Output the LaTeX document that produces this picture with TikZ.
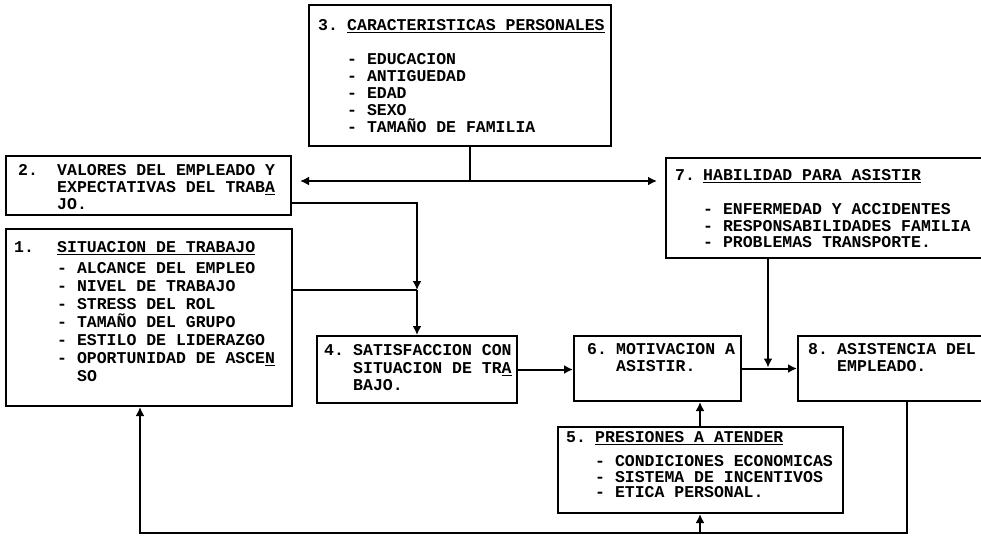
\documentclass[tikz,border=0pt]{standalone}
\usepackage{fontspec}
\setmonofont{Liberation Mono}
\usetikzlibrary{arrows.meta}
\newcommand\twfont{\ttfamily\bfseries\fontsize{16.5}{18}\selectfont}
\newcommand\myul[1]{\setbox0=\hbox{#1}\rlap{\rule[-3pt]{\wd0}{1.5pt}}\box0}
\tikzset{
  box/.style={draw, line width=2pt, anchor=north west, inner sep=0pt},
  txt/.style={anchor=base west, inner sep=0pt, font=\twfont},
  ln/.style={line width=2pt},
  arr/.style={line width=2pt, -{Latex[length=9pt,width=9pt]}},
}
\begin{document}
\begin{tikzpicture}[x=1pt,y=-1pt]
\useasboundingbox (0,0) rectangle (981,546);
\clip (0,0) rectangle (981,546);
\fill[white] (0,0) rectangle (981,546);
% boxes
\node[box, minimum width=302pt, minimum height=141pt] (b3) at (308,4) {};
\node[box, minimum width=285pt, minimum height=59pt] (b2) at (5,155) {};
\node[box, minimum width=286pt, minimum height=177pt] (b1) at (5,228) {};
\node[box, minimum width=330pt, minimum height=100pt] (b7) at (665,157) {};
\node[box, minimum width=200pt, minimum height=67pt] (b4) at (316,335) {};
\node[box, minimum width=167pt, minimum height=65pt] (b6) at (573,335) {};
\node[box, minimum width=200pt, minimum height=65pt] (b8) at (797,335) {};
\node[box, minimum width=285pt, minimum height=86pt] (b5) at (557,426) {};
% texts box 3
\node[txt] (t3n) at (318,30) {3.};
\node[txt] (t3h) at (347,30) {\myul{CARACTERISTICAS PERSONALES}};
\node[txt] (t3a) at (347,64) {- EDUCACION};
\node[txt] (t3b) at (347,81) {- ANTIGUEDAD};
\node[txt] (t3c) at (347,98) {- EDAD};
\node[txt] (t3d) at (347,115) {- SEXO};
\node[txt] (t3e) at (347,132) {- TAMAÑO DE FAMILIA};
% box 2
\node[txt] (t2n) at (18,175) {2.};
\node[txt] (t2a) at (57,175) {VALORES DEL EMPLEADO Y};
\node[txt] (t2b) at (57,192) {EXPECTATIVAS DEL TRAB\myul{A}};
\node[txt] (t2c) at (57,209) {JO.};
% box 1
\node[txt] (t1n) at (14,252) {1.};
\node[txt] (t1h) at (57,252) {\myul{SITUACION DE TRABAJO}};
\node[txt] (t1a) at (57,273) {- ALCANCE DEL EMPLEO};
\node[txt] (t1b) at (57,291) {- NIVEL DE TRABAJO};
\node[txt] (t1c) at (57,309) {- STRESS DEL ROL};
\node[txt] (t1d) at (57,327) {- TAMAÑO DEL GRUPO};
\node[txt] (t1e) at (57,345) {- ESTILO DE LIDERAZGO};
\node[txt] (t1f) at (57,363) {- OPORTUNIDAD DE ASCE\myul{N}};
\node[txt] (t1g) at (77,381) {SO};
% box 7
\node[txt] (t7n) at (675,180) {7.};
\node[txt] (t7h) at (703,180) {\myul{HABILIDAD PARA ASISTIR}};
\node[txt] (t7a) at (703,214) {- ENFERMEDAD Y ACCIDENTES};
\node[txt] (t7b) at (703,231) {- RESPONSABILIDADES FAMILIA};
\node[txt] (t7c) at (703,247) {- PROBLEMAS TRANSPORTE.};
% box 4
\node[txt] (t4n) at (324,355) {4.};
\node[txt] (t4a) at (353,355) {SATISFACCION CON};
\node[txt] (t4b) at (353,373) {SITUACION DE TR\myul{A}};
\node[txt] (t4c) at (353,390) {BAJO.};
% box 6
\node[txt] (t6n) at (587,354) {6.};
\node[txt] (t6a) at (616,354) {MOTIVACION A};
\node[txt] (t6b) at (616,371) {ASISTIR.};
% box 8
\node[txt] (t8n) at (808,354) {8.};
\node[txt] (t8a) at (837,354) {ASISTENCIA DEL};
\node[txt] (t8b) at (837,371) {EMPLEADO.};
% box 5
\node[txt] (t5n) at (566,442) {5.};
\node[txt] (t5h) at (595,442) {\myul{PRESIONES A ATENDER}};
\node[txt] (t5a) at (595,466) {- CONDICIONES ECONOMICAS};
\node[txt] (t5b) at (595,482) {- SISTEMA DE INCENTIVOS};
\node[txt] (t5c) at (595,497) {- ETICA PERSONAL.};
% connectors
\coordinate (j3) at (470,181);
\draw[ln] (b3.south -| j3) -- (j3);
\draw[arr, shorten >=8pt] (j3) -- (j3 -| b2.east);
\draw[arr, shorten >=8pt] (j3) -- (j3 -| b7.west);
\coordinate (r2) at (417,203);
\coordinate (k) at (417,290);
\draw[arr] (r2 -| b2.east) -- (r2) -- (k);
\draw[ln] (k -| b1.east) -- (k);
\draw[arr] (k) -- (k |- b4.north);
\draw[arr] (b4.east) -- (b4.east -| b6.west);
\draw[arr] (b6.east) -- (b6.east -| b8.west);
\coordinate (m) at (768,367.5);
\draw[arr] (m |- b7.south) -- (m);
\coordinate (p) at (700,0);
\draw[arr] (p |- b5.north) -- (p |- b6.south);
\coordinate (f1) at (907,533);
\coordinate (f2) at (140,533);
\coordinate (f3) at (700,533);
\draw[arr] (f1 |- b8.south) -- (f1) -- (f2) -- (f2 |- b1.south);
\draw[arr] (f3) -- (f3 |- b5.south);
\end{tikzpicture}
\end{document}
